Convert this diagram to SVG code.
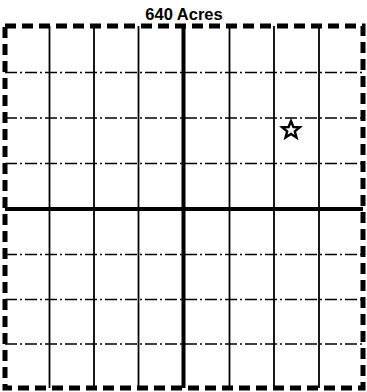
<svg xmlns="http://www.w3.org/2000/svg" width="367" height="392" viewBox="0 0 367 392">
<style>
.v{stroke:#000;stroke-width:1.8;fill:none}
.h{stroke:#000;stroke-width:1.3;fill:none;stroke-dasharray:12 3 2 3}
.c{stroke:#000;stroke-width:4;fill:none}
.b{stroke:#000;stroke-width:5;fill:none;stroke-dasharray:11 6}
.t{font-family:"Liberation Sans",Arial,sans-serif;font-weight:bold;font-size:16.5px;fill:#000}
</style>
<rect width="367" height="392" fill="#fff"/>
<text class="t" x="184" y="20" text-anchor="middle">640 Acres</text>
<g id="grid">
<path class="v" d="M49.5 26V388M94 26V388M138.5 26V388M229.5 26V388M274 26V388M319 26V388"/>
<path class="h" d="M5 72.5H363M5 118H363M5 163.5H363M5 254.5H363M5 299.5H363M5 344H363"/>
<path class="c" d="M183.5 26V388M5 209H363"/>
</g>
<rect id="border" class="b" x="5" y="26" width="358" height="362"/>
<g id="star">
<polygon points="291,121 293.4,127 299.8,127.3 294.8,131.4 296.5,137.6 291,134 285.5,137.6 287.2,131.4 282.2,127.3 288.6,127" fill="none" stroke="#000" stroke-width="2.4" stroke-linejoin="miter"/>
</g>
</svg>
